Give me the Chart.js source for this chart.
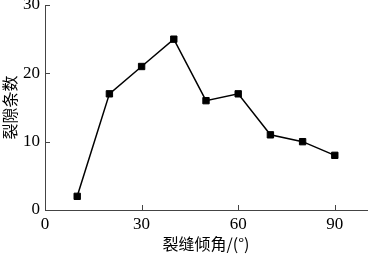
<!DOCTYPE html>
<html>
<head>
<meta charset="utf-8">
<script src="https://cdn.jsdelivr.net/npm/chart.js@4"></script>
<style>
  html, body { margin: 0; padding: 0; background: #fff; }
  #wrap { width: 368px; height: 254px; position: relative; }
</style>
</head>
<body>
<div id="wrap"><canvas id="chart"></canvas></div>
<script>
const angles = [10, 20, 30, 40, 50, 60, 70, 80, 90];
const counts = [2, 17, 21, 25, 16, 17, 11, 10, 8];
const xTicks = [0, 30, 60, 90];
const yTicks = [0, 10, 20, 30];

const axisColor = '#444';
const serif = "'Liberation Serif', 'DejaVu Serif', serif";
const cjk = "'Noto Sans CJK SC', sans-serif";

// tick marks pointing into the plot
const innerTicks = {
    id: 'innerTicks',
    afterDraw(chart) {
        const ctx = chart.ctx;
        const x = chart.scales.x, y = chart.scales.y;
        ctx.save();
        ctx.strokeStyle = axisColor;
        ctx.lineWidth = 1;
        ctx.beginPath();
        xTicks.forEach(v => {
            const px = Math.round(x.getPixelForValue(v)) + 0.5;
            ctx.moveTo(px, y.bottom);
            ctx.lineTo(px, y.bottom - 5);
        });
        yTicks.forEach(v => {
            const py = Math.round(y.getPixelForValue(v)) + 0.5;
            ctx.moveTo(x.left, py);
            ctx.lineTo(x.left + 5, py);
        });
        ctx.stroke();
        ctx.restore();
    }
};

new Chart(document.getElementById('chart'), {
    type: 'line',
    data: {
        datasets: [{
            data: angles.map((a, i) => ({x: a, y: counts[i]})),
            borderColor: '#000',
            borderWidth: 1.5,
            pointStyle: 'rect',
            pointRadius: 4.5,
            pointBackgroundColor: '#000',
            pointBorderColor: '#000',
            pointBorderWidth: 1,
            tension: 0
        }]
    },
    options: {
        responsive: true,
        maintainAspectRatio: false,
        animation: false,
        layout: { autoPadding: false, padding: { top: 5, right: 1, left: 0, bottom: 0 } },
        plugins: { legend: { display: false }, tooltip: { enabled: false } },
        scales: {
            x: {
                type: 'linear',
                min: 0,
                max: 100,
                afterBuildTicks: s => { s.ticks = xTicks.map(v => ({value: v})); },
                afterFit: s => { s.height = 44; s.paddingLeft = 0; s.paddingRight = 0; },
                grid: { display: false, drawTicks: false },
                border: { color: axisColor, width: 1 },
                ticks: { color: '#000', font: { family: serif, size: 17 }, padding: 4, maxRotation: 0 },
                title: {
                    display: true,
                    text: '裂缝倾角/(°)',
                    color: '#000',
                    font: { family: cjk, size: 16 },
                    padding: { top: 0, bottom: 0 }
                }
            },
            y: {
                min: 0,
                max: 30,
                afterBuildTicks: s => { s.ticks = yTicks.map(v => ({value: v})); },
                afterFit: s => { s.width = 45; s.paddingTop = 0; s.paddingBottom = 0; },
                grid: { display: false, drawTicks: false },
                border: { color: axisColor, width: 1 },
                ticks: { color: '#000', font: { family: serif, size: 17 }, padding: 5 },
                title: {
                    display: true,
                    text: '裂隙条数',
                    color: '#000',
                    font: { family: cjk, size: 16 },
                    padding: { top: 0, bottom: 0 }
                }
            }
        }
    },
    plugins: [innerTicks]
});
</script>
</body>
</html>
